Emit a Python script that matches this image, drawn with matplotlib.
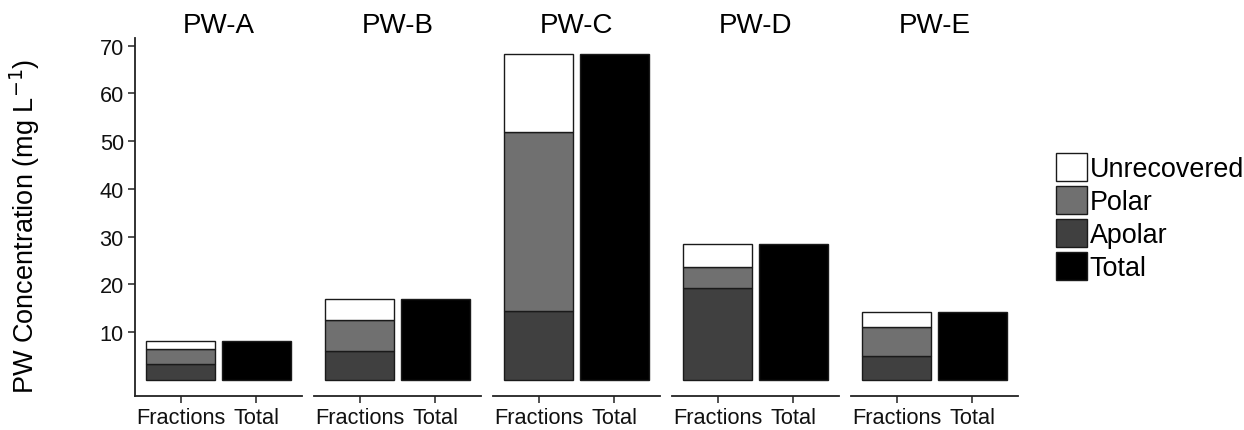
import matplotlib
matplotlib.use("Agg")
import matplotlib.pyplot as plt
from matplotlib.patches import Patch

plt.rcParams["font.family"] = ["Liberation Sans", "DejaVu Sans"]

# ---- data (mg/L) ---------------------------------------------------------
sites = ["PW-A", "PW-B", "PW-C", "PW-D", "PW-E"]
apolar = [3.4, 6.1, 14.4, 19.2, 4.9]
polar = [3.1, 6.5, 37.6, 4.4, 6.1]
unrecovered = [1.7, 4.4, 16.3, 4.8, 3.2]
total = [8.2, 17.0, 68.3, 28.4, 14.2]
bar_labels = ["Fractions", "Total"]

col = {"Unrecovered": "white", "Polar": "#707070", "Apolar": "#404040", "Total": "black"}
edge = "#1a1a1a"

W, H = 1244, 431
fig = plt.figure(figsize=(W / 100, H / 100), dpi=100)

# panel geometry in pixels
lefts = [135, 314, 493, 672, 851]
pw = 167
top, bot = 39, 397
ylo, yhi = -3.4, 71.6

for k, site in enumerate(sites):
    ax = fig.add_axes([lefts[k] / W, 1 - bot / H, pw / W, (bot - top) / H])
    ax.bar(0, apolar[k], 0.9, color=col["Apolar"], edgecolor=edge, lw=1.0)
    ax.bar(0, polar[k], 0.9, bottom=apolar[k], color=col["Polar"], edgecolor=edge, lw=1.0)
    ax.bar(0, unrecovered[k], 0.9, bottom=apolar[k] + polar[k],
           color=col["Unrecovered"], edgecolor=edge, lw=1.0)
    ax.bar(1, total[k], 0.9, color=col["Total"], edgecolor=edge, lw=1.0)
    ax.set_xlim(-0.6, 1.6)
    ax.set_ylim(ylo, yhi)
    ax.set_xticks([0, 1], bar_labels)
    ax.tick_params(axis="x", length=5, width=1.1, color="#222", labelsize=15.7,
                   labelcolor="#111", pad=3)
    for s in ["top", "right"]:
        ax.spines[s].set_visible(False)
    ax.spines["bottom"].set_linewidth(1.3)
    ax.spines["bottom"].set_color("#222")
    if k == 0:
        ax.set_yticks(range(10, 71, 10))
        ax.tick_params(axis="y", length=5, width=1.1, color="#222", labelsize=15.7,
                       labelcolor="#111", pad=3)
        ax.spines["left"].set_linewidth(1.3)
        ax.spines["left"].set_color("#222")
    else:
        ax.spines["left"].set_visible(False)
        ax.set_yticks([])
    ax.set_title(site, fontsize=20, pad=4)

fig.text(25 / W, 1 - 226 / H, r"PW Concentration (mg L$^{-1}$)", fontsize=19.5,
         rotation=90, ha="center", va="center")

handles = [Patch(facecolor=col[n], edgecolor=edge, lw=1.0)
           for n in ["Unrecovered", "Polar", "Apolar", "Total"]]
fig.legend(handles, ["Unrecovered", "Polar", "Apolar", "Total"],
           loc="center left", bbox_to_anchor=(1056 / W, 1 - 218 / H),
           frameon=False, fontsize=19.4, handlelength=1.15, handleheight=1.2,
           handletextpad=0.1, labelspacing=0.15, borderpad=0, borderaxespad=0)

fig.savefig("out.png", dpi=100)
